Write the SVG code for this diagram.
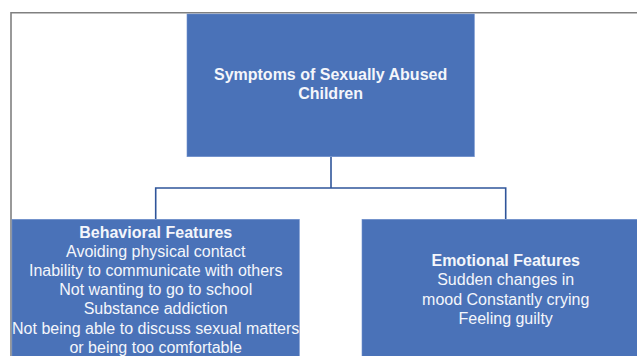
<svg xmlns="http://www.w3.org/2000/svg" width="637" height="356" viewBox="0 0 637 356">
<style>
.box{fill:#4a72b8;stroke:#6d8ecb;stroke-width:0.6}
.t{font-family:"Liberation Sans",Arial,sans-serif;font-size:16px;fill:#f4f6fb;text-anchor:middle}
.b{font-weight:bold}
.conn{fill:none;stroke:#2f559a;stroke-width:1.6}
</style>
<rect width="637" height="356" fill="#ffffff"/>
<path d="M11,356 V12.7 H637" fill="none" stroke="#808080" stroke-width="1.6"/>
<g id="connectors">
<path class="conn" d="M331,157 V188"/>
<path class="conn" d="M155.7,219 V188 H505.7 V219"/>
</g>
<g id="root">
<rect class="box" x="187" y="14" width="287.3" height="142.7"/>
<text class="t b" x="330.6" y="80">Symptoms of Sexually Abused</text>
<text class="t b" x="330.6" y="99">Children</text>
</g>
<g id="behavioral">
<rect class="box" x="12" y="219.3" width="287.3" height="150"/>
<text class="t b" x="155.7" y="237.6">Behavioral Features</text>
<text class="t" x="155.7" y="256.8">Avoiding physical contact</text>
<text class="t" x="155.7" y="276">Inability to communicate with others</text>
<text class="t" x="155.7" y="295.2">Not wanting to go to school</text>
<text class="t" x="155.7" y="314.4">Substance addiction</text>
<text class="t" x="155.7" y="333.8">Not being able to discuss sexual matters</text>
<text class="t" x="155.7" y="353">or being too comfortable</text>
</g>
<g id="emotional">
<rect class="box" x="362" y="219.3" width="287.3" height="150"/>
<text class="t b" x="505.7" y="266">Emotional Features</text>
<text class="t" x="505.7" y="285.4">Sudden changes in</text>
<text class="t" x="505.7" y="304.6">mood Constantly crying</text>
<text class="t" x="505.7" y="323.6">Feeling guilty</text>
</g>
</svg>
